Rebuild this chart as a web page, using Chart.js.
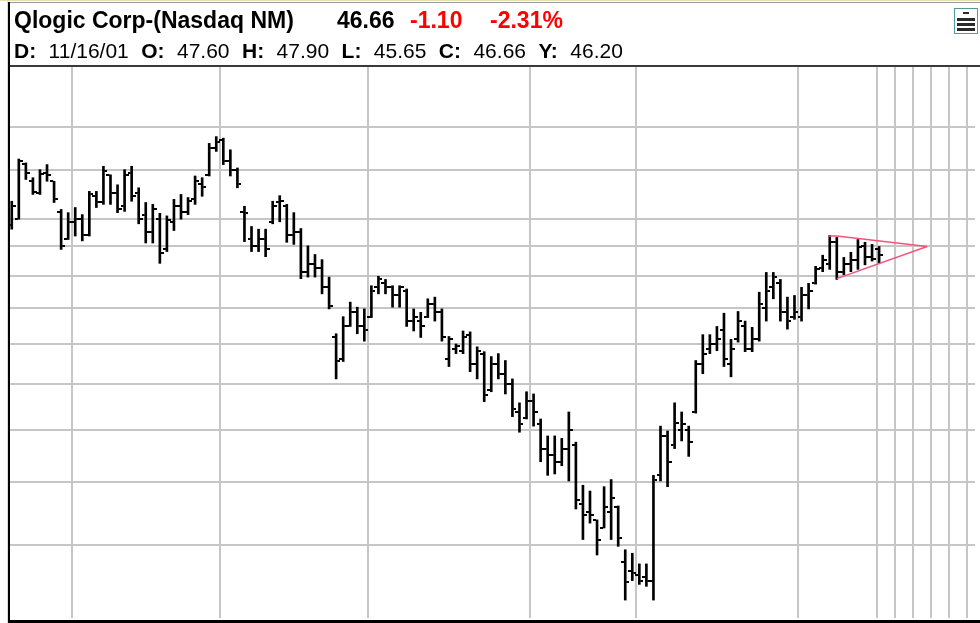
<!DOCTYPE html>
<html>
<head>
<meta charset="utf-8">
<script src="https://cdn.jsdelivr.net/npm/chart.js@4.4.0/dist/chart.umd.min.js"></script>
<style>
  html, body { margin: 0; padding: 0; background: #fff; }
  body { width: 980px; height: 623px; position: relative; overflow: hidden;
         font-family: "Liberation Sans", Arial, sans-serif; }
  #chart { position: absolute; left: 0; top: 0; }
  .t { position: absolute; white-space: nowrap; color: #000; line-height: 1; }
  .t1 { font-size: 23px; font-weight: bold; top: 9px; }
  .t2 { font-size: 21px; top: 40px; left: 14px; word-spacing: 6.6px; }
  .red { color: #ff0000; }
  .line { position: absolute; }
  #icon { position: absolute; left: 954px; top: 8px; width: 22px; height: 24px;
          border: 1px solid #4f9b9b; background: #fff; }
  #icon div { position: absolute; background: #2a2a2a; }
</style>
</head>
<body>
<canvas id="chart" width="980" height="623"></canvas>

<div class="t t1" style="left:14px">Qlogic Corp-(Nasdaq NM)</div>
<div class="t t1" style="left:337px">46.66</div>
<div class="t t1 red" style="left:410px">-1.10</div>
<div class="t t1 red" style="left:490px">-2.31%</div>
<div class="t t2"><b>D:</b> 11/16/01 <b>O:</b> 47.60 <b>H:</b> 47.90 <b>L:</b> 45.65 <b>C:</b> 46.66 <b>Y:</b> 46.20</div>

<div id="icon">
  <div style="left:8px;top:3px;width:6px;height:2px"></div>
  <div style="left:2px;top:9px;width:18px;height:3px"></div>
  <div style="left:2px;top:14px;width:18px;height:3px"></div>
  <div style="left:2px;top:19px;width:18px;height:3px"></div>
</div>

<div class="line" style="left:0;top:0;width:980px;height:1px;background:#e4dfb0"></div>
<div class="line" style="left:7px;top:0;width:1px;height:623px;background:#e4dfb0"></div>
<div class="line" style="left:8px;top:2px;width:972px;height:1px;background:#9a9a9a"></div>
<div class="line" style="left:8px;top:2px;width:2px;height:621px;background:#000"></div>
<div class="line" style="left:10px;top:65px;width:970px;height:2px;background:#3a3a3a"></div>
<div class="line" style="left:8px;top:620px;width:972px;height:3px;background:#000"></div>

<script>
// daily bars 5/18/01 .. 11/16/01, index 0 = first bar
const opens = [
  51.0, 52.0, 61.0, 58.0, 56.0, 59.5, 58.0, 53.0, 49.0, 51.5,
  52.0, 49.5, 55.5, 54.5, 59.0, 56.0, 54.0, 59.5, 56.0, 52.5,
  50.0, 52.0, 47.5, 51.5, 54.0, 53.0, 55.0, 57.5, 59.0, 64.0,
  65.5, 61.5, 60.0, 53.0, 49.0, 48.0, 49.0, 51.5, 54.5, 54.0,
  49.5, 50.0, 44.5, 45.5, 45.0, 42.5, 36.8, 34.5, 38.0, 39.5,
  38.0, 39.0, 42.5, 43.0, 42.5, 41.5, 42.0, 38.5, 38.5, 39.0,
  40.5, 39.5, 34.5, 35.5, 35.3, 37.0, 34.0, 35.0, 31.5, 34.0,
  33.0, 32.0, 29.5, 29.0, 30.5, 28.5, 26.5, 26.0, 25.5, 26.5,
  26.8, 22.5, 22.0, 21.5, 21.0, 22.0, 22.3, 19.0, 18.5, 18.3,
  18.2, 18.0, 24.5, 27.5, 26.8, 28.0, 28.0, 29.5, 34.0, 35.5,
  36.0, 37.5, 34.0, 36.5, 38.0, 35.5, 36.5, 40.0, 42.5, 43.0,
  39.5, 39.0, 39.0, 41.5, 43.0, 45.0, 45.5, 48.5, 44.5, 45.5,
  46.0, 48.0, 46.5, 47.60
];
const highs = [
  54.7, 61.9, 61.2, 58.6, 60.0, 60.9, 58.0, 53.4, 52.9, 53.7,
  52.6, 56.3, 56.3, 60.6, 59.1, 57.4, 60.0, 60.6, 56.9, 54.5,
  54.2, 52.8, 52.4, 55.0, 55.8, 55.3, 58.9, 58.6, 64.8, 66.1,
  65.8, 63.6, 60.3, 53.9, 50.8, 50.4, 50.4, 54.7, 55.6, 54.2,
  52.9, 50.5, 48.0, 46.8, 46.1, 43.8, 37.1, 39.0, 40.7, 40.1,
  39.9, 42.7, 43.9, 43.5, 42.7, 42.7, 42.3, 39.9, 39.5, 41.1,
  41.3, 39.9, 36.8, 36.0, 37.4, 37.3, 35.7, 35.2, 34.7, 35.0,
  34.3, 32.5, 30.3, 31.3, 31.1, 28.9, 27.5, 27.5, 27.3, 29.5,
  27.0, 23.8, 23.4, 21.5, 23.7, 24.2, 22.4, 19.7, 19.5, 18.9,
  18.9, 24.5, 28.3, 27.9, 30.3, 29.5, 28.3, 34.3, 37.0, 37.0,
  37.9, 39.4, 36.5, 39.6, 38.5, 37.8, 41.9, 44.4, 44.4, 43.5,
  41.3, 41.5, 42.5, 43.0, 45.2, 46.7, 49.5, 49.2, 46.4, 47.1,
  48.9, 48.5, 48.2, 47.90
];
const lows = [
  50.4, 51.9, 58.3, 55.8, 55.8, 58.0, 54.5, 47.5, 48.9, 49.4,
  48.7, 49.4, 53.7, 54.2, 54.2, 52.9, 53.1, 54.7, 51.2, 48.4,
  48.4, 45.6, 47.2, 50.2, 51.9, 52.6, 54.2, 55.5, 58.9, 63.3,
  60.9, 58.9, 56.9, 48.6, 47.2, 47.2, 46.5, 51.2, 51.5, 48.5,
  48.2, 43.6, 43.8, 43.8, 41.7, 39.9, 32.5, 34.2, 37.9, 37.1,
  36.3, 38.9, 41.7, 41.7, 40.1, 40.1, 37.9, 37.4, 36.7, 38.9,
  38.5, 36.3, 33.7, 35.0, 35.0, 33.2, 32.5, 30.4, 31.3, 32.5,
  31.1, 29.1, 27.8, 28.9, 28.3, 25.5, 24.5, 24.6, 25.2, 24.1,
  22.2, 20.3, 21.3, 19.4, 21.0, 20.3, 19.9, 17.0, 18.0, 17.8,
  17.7, 17.0, 24.1, 23.7, 26.5, 27.1, 25.9, 29.4, 33.0, 35.0,
  35.3, 33.7, 32.7, 36.2, 35.2, 35.2, 36.3, 38.5, 41.1, 38.5,
  37.6, 38.7, 38.5, 39.9, 42.9, 44.5, 44.8, 43.5, 44.1, 44.5,
  44.8, 45.4, 45.9, 45.65
];
const closes = [
  54.0, 61.5, 59.5, 56.2, 59.2, 59.0, 55.0, 48.0, 51.5, 52.0,
  49.5, 55.8, 54.5, 59.8, 56.0, 53.5, 59.0, 55.5, 52.0, 50.0,
  53.5, 47.0, 51.8, 54.0, 53.0, 54.8, 58.0, 57.0, 64.0, 65.0,
  61.5, 60.0, 57.5, 52.8, 48.0, 49.0, 47.5, 54.0, 54.8, 49.5,
  50.0, 44.5, 45.5, 45.0, 42.5, 40.2, 34.3, 38.0, 39.5, 38.0,
  37.5, 42.0, 43.5, 42.5, 41.5, 42.5, 38.5, 39.0, 38.0, 40.5,
  39.5, 36.8, 36.5, 35.8, 36.8, 34.0, 35.3, 31.0, 34.0, 33.0,
  32.0, 29.8, 28.5, 30.5, 29.5, 26.5, 26.0, 25.5, 26.5, 28.0,
  22.8, 21.8, 21.8, 20.3, 22.3, 22.9, 20.4, 17.9, 18.4, 18.0,
  18.0, 24.2, 27.5, 25.5, 28.6, 28.5, 27.0, 34.0, 35.0, 36.0,
  36.5, 34.5, 35.5, 38.5, 35.5, 36.5, 40.5, 42.0, 43.8, 39.5,
  38.5, 39.5, 41.5, 42.0, 44.8, 46.0, 48.5, 44.5, 45.5, 46.0,
  47.8, 46.5, 46.20, 46.66
];

// vertical grid: month starts (Jun..Nov) then the blank area on the right
const xGrid = [8.5, 29.5, 50.5, 73.5, 88.5, 111.5, 122.65, 125.2, 127.75, 130.3, 132.85, 135.4];
// horizontal grid prices (log scale)
const yGrid = [20, 24, 28, 32, 36, 40, 44, 48, 52, 60, 68];

// symmetrical triangle drawn on the chart
const triUpperX = [115.8, 117, 129.8];
const triUpperY = [49.4, 49.4, 47.9];
const triLowerX = [117, 129.8];
const triLowerY = [43.6, 47.9];

function tickImage(side) {
  const c = document.createElement('canvas');
  c.width = 8; c.height = 2;
  const g = c.getContext('2d');
  g.fillStyle = '#000';
  if (side === 'left') g.fillRect(0, 0, 3, 2);
  else g.fillRect(5, 0, 3, 2);
  return c;
}

const ctx = document.getElementById('chart').getContext('2d');
new Chart(ctx, {
  type: 'bar',
  data: {
    datasets: [
      {
        type: 'line',
        data: triUpperX.map((x, i) => ({ x: x, y: triUpperY[i] })),
        borderColor: '#f2547a', borderWidth: 1.5, pointRadius: 0, fill: false
      },
      {
        type: 'line',
        data: triLowerX.map((x, i) => ({ x: x, y: triLowerY[i] })),
        borderColor: '#f2547a', borderWidth: 1.5, pointRadius: 0, fill: false
      },
      {
        type: 'line',
        data: opens.map((v, i) => ({ x: i, y: v })),
        showLine: false, pointStyle: tickImage('left'), pointRadius: 3
      },
      {
        type: 'line',
        data: closes.map((v, i) => ({ x: i, y: v })),
        showLine: false, pointStyle: tickImage('right'), pointRadius: 3
      },
      {
        type: 'bar',
        data: lows.map((v, i) => ({ x: i, y: [v, highs[i]] })),
        backgroundColor: '#000',
        barThickness: 2
      }
    ]
  },
  options: {
    responsive: false,
    animation: false,
    events: [],
    layout: { padding: { left: 10, top: 67, right: 0, bottom: 3 } },
    plugins: { legend: { display: false }, tooltip: { enabled: false } },
    scales: {
      x: {
        type: 'linear',
        min: -0.25,
        max: 136.6,
        offset: false,
        afterBuildTicks: s => { s.ticks = xGrid.map(v => ({ value: v })); },
        ticks: { display: false },
        grid: { color: '#c6c6c6', lineWidth: 2, drawTicks: false, offset: false },
        border: { display: false }
      },
      y: {
        type: 'logarithmic',
        min: 16.13,
        max: 81.06,
        afterBuildTicks: s => { s.ticks = yGrid.map(v => ({ value: v })); },
        ticks: { display: false },
        grid: { color: '#c6c6c6', lineWidth: 2, drawTicks: false },
        border: { display: false }
      }
    }
  }
});
</script>
</body>
</html>
